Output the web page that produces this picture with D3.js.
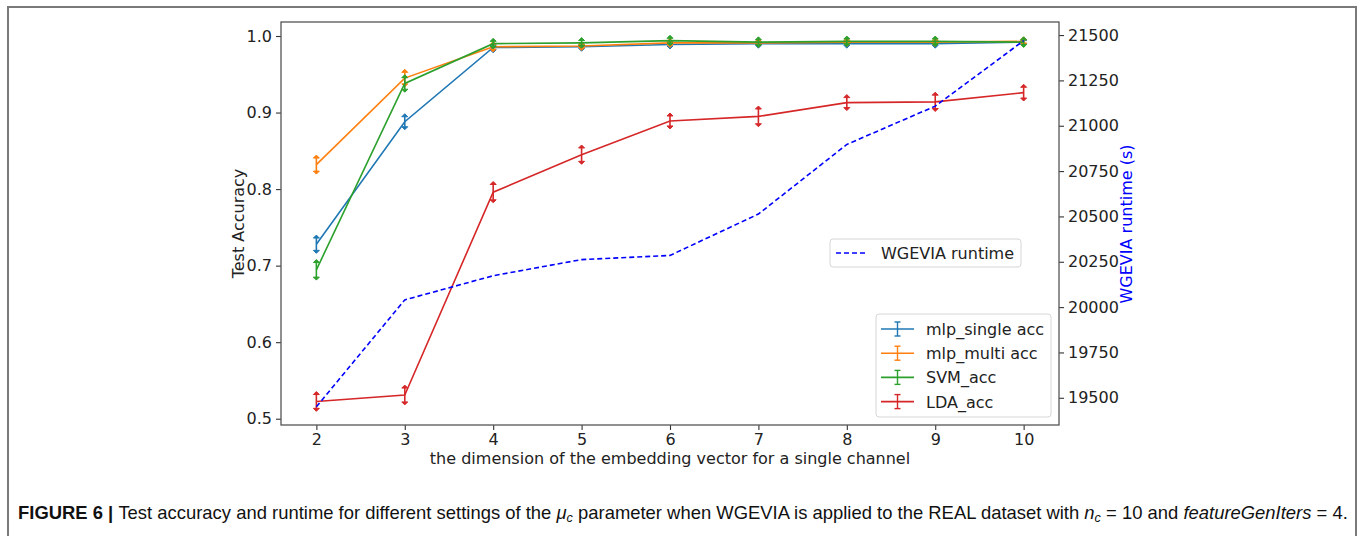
<!DOCTYPE html>
<html>
<head>
<meta charset="utf-8">
<script src="https://cdn.jsdelivr.net/npm/d3@7"></script>
<style>
  body { margin: 0; background: #fff; }
  svg { display: block; }
  text { font-family: "DejaVu Sans", sans-serif; fill: #222; }
</style>
</head>
<body>
<script>
// embedding dimension values
var dims = [2, 3, 4, 5, 6, 7, 8, 9, 10];

// accuracy series
var mlpSingle    = [0.728, 0.888, 0.985, 0.986, 0.989, 0.990, 0.990, 0.990, 0.992];
var mlpSingleErr = [0.008, 0.0065, 0.003, 0.002, 0.002, 0.002, 0.002, 0.002, 0.002];
var mlpMulti     = [0.832, 0.945, 0.986, 0.987, 0.991, 0.991, 0.992, 0.992, 0.993];
var mlpMultiErr  = [0.0085, 0.0075, 0.003, 0.002, 0.002, 0.002, 0.002, 0.002, 0.002];
var svmAcc       = [0.6945, 0.938, 0.990, 0.991, 0.994, 0.992, 0.993, 0.993, 0.992];
var svmErr       = [0.0095, 0.0075, 0.003, 0.003, 0.003, 0.003, 0.003, 0.003, 0.003];
var ldaAcc       = [0.5226, 0.531, 0.796, 0.845, 0.889, 0.895, 0.913, 0.914, 0.926];
var ldaErr       = [0.009, 0.009, 0.010, 0.0087, 0.0065, 0.0096, 0.0065, 0.0087, 0.007];

// WGEVIA runtime in seconds
var runtime = [19450, 20040, 20173, 20262, 20285, 20513, 20897, 21108, 21469];

var accTicks = [0.5, 0.6, 0.7, 0.8, 0.9, 1.0];
var rtTicks = [19500, 19750, 20000, 20250, 20500, 20750, 21000, 21250, 21500];

var series = [
  { name: "mlp_single acc", color: "#1f77b4", values: mlpSingle, err: mlpSingleErr },
  { name: "mlp_multi acc", color: "#ff7f0e", values: mlpMulti, err: mlpMultiErr },
  { name: "SVM_acc", color: "#2ca02c", values: svmAcc, err: svmErr },
  { name: "LDA_acc", color: "#d62728", values: ldaAcc, err: ldaErr }
];

var W = 1360, H = 536;
var plotL = 281, plotR = 1059, plotT = 22, plotB = 425;

var svg = d3.select("body").append("svg").attr("width", W).attr("height", H);

// outer figure frame
svg.append("path")
  .attr("d", "M8,536 V7 H1356 V536")
  .attr("fill", "none")
  .attr("stroke", "#7a7a7a")
  .attr("stroke-width", 2);

var x = d3.scaleLinear().domain([1.6, 10.4]).range([plotL, plotR]);
var y = d3.scaleLinear().domain([0.4918, 1.0183]).range([plotB, plotT]);
var y2 = d3.scaleLinear().domain([19350, 21572]).range([plotB, plotT]);

var g = svg.append("g");

// axes
var xAxis = d3.axisBottom(x).tickValues(dims).tickSize(5).tickPadding(4).tickFormat(d3.format("d"));
var yAxis = d3.axisLeft(y).tickValues(accTicks).tickSize(5).tickPadding(4).tickFormat(d3.format(".1f"));
var y2Axis = d3.axisRight(y2).tickValues(rtTicks).tickSize(5).tickPadding(4).tickFormat(d3.format("d"));

function styleAxis(sel) {
  sel.select(".domain").remove();
  sel.selectAll("line").attr("stroke", "#333").attr("stroke-width", 1.1);
  sel.selectAll("text").attr("font-family", "DejaVu Sans").attr("font-size", 16).attr("fill", "#222");
}

g.append("g").attr("transform", "translate(0," + plotB + ")").call(xAxis).call(styleAxis);
g.append("g").attr("transform", "translate(" + plotL + ",0)").call(yAxis).call(styleAxis);
g.append("g").attr("transform", "translate(" + plotR + ",0)").call(y2Axis).call(styleAxis);

// accuracy lines with error bars
var line = d3.line().x(function(d, i) { return x(dims[i]); }).y(function(d) { return y(d); });

series.forEach(function(s) {
  var sg = g.append("g");
  sg.append("path")
    .attr("d", line(s.values))
    .attr("fill", "none")
    .attr("stroke", s.color)
    .attr("stroke-width", 1.6);
  var eb = sg.selectAll("g.eb").data(s.values).enter().append("g");
  eb.append("line")
    .attr("x1", function(d, i) { return x(dims[i]); })
    .attr("x2", function(d, i) { return x(dims[i]); })
    .attr("y1", function(d, i) { return y(d - s.err[i]); })
    .attr("y2", function(d, i) { return y(d + s.err[i]); })
    .attr("stroke", s.color).attr("stroke-width", 1.6);
  [-1, 1].forEach(function(sign) {
    eb.append("path")
      .attr("d", function(d, i) {
        var cx = x(dims[i]), cy = y(d + sign * s.err[i]);
        return "M" + (cx - 3) + "," + cy + "L" + cx + "," + (cy - sign * 3) + "L" + (cx + 3) + "," + cy + "Z";
      })
      .attr("fill", s.color).attr("stroke", s.color).attr("stroke-width", 1);
  });
});

// runtime on twin axis
var line2 = d3.line().x(function(d, i) { return x(dims[i]); }).y(function(d) { return y2(d); });
g.append("path")
  .attr("d", line2(runtime))
  .attr("fill", "none")
  .attr("stroke", "#0000ff")
  .attr("stroke-width", 1.6)
  .attr("stroke-dasharray", "5,3");

// spines
g.append("rect")
  .attr("x", plotL).attr("y", plotT)
  .attr("width", plotR - plotL).attr("height", plotB - plotT)
  .attr("fill", "none").attr("stroke", "#555").attr("stroke-width", 1.3);

// axis labels
svg.append("text")
  .attr("x", (plotL + plotR) / 2).attr("y", 464)
  .attr("text-anchor", "middle").attr("font-size", 16)
  .text("the dimension of the embedding vector for a single channel");

svg.append("text")
  .attr("transform", "translate(244," + ((plotT + plotB) / 2) + ") rotate(-90)")
  .attr("text-anchor", "middle").attr("font-size", 16)
  .text("Test Accuracy");

svg.append("text")
  .attr("transform", "translate(1132,224) rotate(-90)")
  .attr("text-anchor", "middle").attr("font-size", 16)
  .style("fill", "#0000ff")
  .text("WGEVIA runtime (s)");

// runtime legend
var lg1 = svg.append("g");
lg1.append("rect").attr("x", 830).attr("y", 239).attr("width", 191).attr("height", 28).attr("rx", 3)
  .attr("fill", "#fff").attr("fill-opacity", 0.8).attr("stroke", "#d6d6d6");
lg1.append("line").attr("x1", 836).attr("x2", 866).attr("y1", 253).attr("y2", 253)
  .attr("stroke", "#0000ff").attr("stroke-width", 1.6).attr("stroke-dasharray", "5,3");
lg1.append("text").attr("x", 881).attr("y", 259).attr("font-size", 16).text("WGEVIA runtime");

// accuracy legend
var lg2 = svg.append("g");
lg2.append("rect").attr("x", 876).attr("y", 314).attr("width", 175).attr("height", 103).attr("rx", 3)
  .attr("fill", "#fff").attr("fill-opacity", 0.8).attr("stroke", "#d6d6d6");
var ent = lg2.selectAll("g.ent").data(series).enter().append("g")
  .attr("transform", function(d, i) { return "translate(0," + (329 + i * 24.2) + ")"; });
ent.append("line").attr("x1", 881).attr("x2", 914).attr("y1", 0).attr("y2", 0)
  .attr("stroke", function(d) { return d.color; }).attr("stroke-width", 1.6);
ent.append("line").attr("x1", 897.5).attr("x2", 897.5).attr("y1", -7).attr("y2", 7)
  .attr("stroke", function(d) { return d.color; }).attr("stroke-width", 1.4);
ent.append("line").attr("x1", 894.5).attr("x2", 900.5).attr("y1", -7).attr("y2", -7)
  .attr("stroke", function(d) { return d.color; }).attr("stroke-width", 1.4);
ent.append("line").attr("x1", 894.5).attr("x2", 900.5).attr("y1", 7).attr("y2", 7)
  .attr("stroke", function(d) { return d.color; }).attr("stroke-width", 1.4);
ent.append("text").attr("x", 926).attr("y", 6).attr("font-size", 16).text(function(d) { return d.name; });

// caption
var cap = svg.append("text")
  .attr("x", 0).attr("y", 0)
  .style("font-family", "'Liberation Sans', Arial, sans-serif")
  .attr("font-size", 17.5)
  .style("fill", "#111");
cap.append("tspan").attr("font-weight", "bold").text("FIGURE 6 | ");
cap.append("tspan").text("Test accuracy and runtime for different settings of the ");
cap.append("tspan").attr("font-style", "italic").text("\u03bc");
cap.append("tspan").attr("font-style", "italic").attr("font-size", 12).attr("dy", 3).text("c");
cap.append("tspan").attr("dy", -3).text(" parameter when WGEVIA is applied to the REAL dataset with ");
cap.append("tspan").attr("font-style", "italic").text("n");
cap.append("tspan").attr("font-style", "italic").attr("font-size", 12).attr("dy", 3).text("c");
cap.append("tspan").attr("dy", -3).text(" = 10 and ");
cap.append("tspan").attr("font-style", "italic").text("featureGenIters");
cap.append("tspan").text(" = 4.");
var cw = cap.node().getBBox().width;
cap.attr("transform", "translate(18,519) scale(" + (1330 / cw) + ",1)");
</script>
</body>
</html>
